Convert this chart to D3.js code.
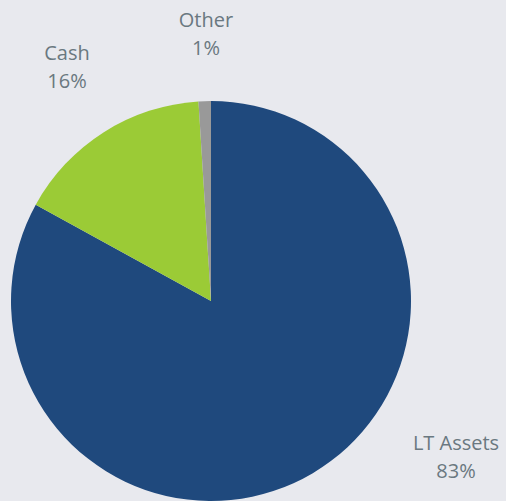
<!DOCTYPE html>
<html>
<head>
<meta charset="utf-8">
<script src="https://cdn.jsdelivr.net/npm/d3@7"></script>
<style>
  html, body { margin: 0; padding: 0; background: #e8e9ee; }
  svg { display: block; }
</style>
</head>
<body>
<script>
// data
const categories = ["LT Assets", "Cash", "Other"];
const values = [83, 16, 1];
const colors = ["#1f497d", "#9bcb36", "#999999"];

// layout
const width = 506;
const height = 501;
const cx = 211;
const cy = 301;
const radius = 200;

// label anchors (centre x, first baseline y), Excel "best fit" placement
const labelPos = [[456, 450], [67, 60], [206, 27]];
const lineHeight = 28;

const svg = d3.select("body")
  .append("svg")
  .attr("width", width)
  .attr("height", height);

const pie = d3.pie().sort(null).value(d => d);
const arc = d3.arc().innerRadius(0).outerRadius(radius);

const g = svg.append("g")
  .attr("transform", `translate(${cx}, ${cy})`);

g.selectAll("path")
  .data(pie(values))
  .enter()
  .append("path")
  .attr("d", arc)
  .attr("fill", (d, i) => colors[i]);

// labels
const labels = svg.selectAll("text.lbl")
  .data(pie(values))
  .enter()
  .append("text")
  .attr("class", "lbl")
  .attr("text-anchor", "middle")
  .attr("font-family", "'Open Sans', sans-serif")
  .attr("font-size", 20)
  .attr("fill", "#6a7880");

labels.append("tspan")
  .attr("x", (d, i) => labelPos[i][0])
  .attr("y", (d, i) => labelPos[i][1])
  .text((d, i) => categories[i]);

labels.append("tspan")
  .attr("x", (d, i) => labelPos[i][0])
  .attr("y", (d, i) => labelPos[i][1] + lineHeight)
  .text(d => Math.round(d.data / d3.sum(values) * 100) + "%");
</script>
</body>
</html>
